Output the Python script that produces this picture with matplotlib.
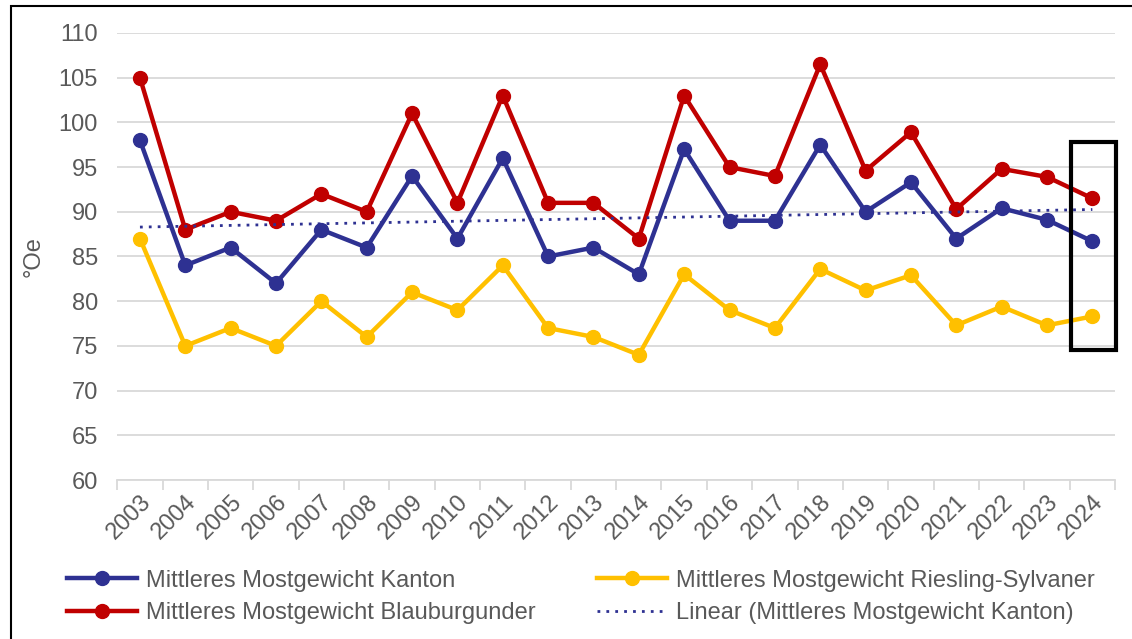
import numpy as np
import matplotlib
matplotlib.use("Agg")
import matplotlib.pyplot as plt
from matplotlib.patches import Rectangle

# data
years = [str(y) for y in range(2003, 2025)]
kanton = [98, 84, 86, 82, 88, 86, 94, 87, 96, 85, 86, 83, 97, 89, 89, 97.5, 90, 93.3, 87, 90.4, 89.1, 86.7]
blauburgunder = [105, 88, 90, 89, 92, 90, 101, 91, 103, 91, 91, 87, 103, 95, 94, 106.5, 94.6, 98.9, 90.3, 94.8, 93.9, 91.5]
riesling = [87, 75, 77, 75, 80, 76, 81, 79, 84, 77, 76, 74, 83, 79, 77, 83.6, 81.2, 82.9, 77.3, 79.4, 77.3, 78.3]

BLUE = "#2E3192"
RED = "#C00000"
YELLOW = "#FFC000"
GREY = "#595959"
FS = 17

plt.rcParams["font.family"] = ["Liberation Sans", "DejaVu Sans"]

fig = plt.figure(figsize=(11.32, 6.39), dpi=100)
ax = fig.add_axes([0.1036, 0.2488, 0.8814, 0.6996])

x = np.arange(len(years))

# linear trend of Kanton series
coef = np.polyfit(x, kanton, 1)
trend = np.polyval(coef, x)

l1, = ax.plot(x, kanton, color=BLUE, lw=3.2, marker="o", ms=10, zorder=3,
              label="Mittleres Mostgewicht Kanton")
l3, = ax.plot(x, riesling, color=YELLOW, lw=3.2, marker="o", ms=10, zorder=3,
              label="Mittleres Mostgewicht Riesling-Sylvaner")
l2, = ax.plot(x, blauburgunder, color=RED, lw=3.2, marker="o", ms=10, zorder=3,
              label="Mittleres Mostgewicht Blauburgunder")
l4, = ax.plot(x, trend, color=BLUE, lw=2, ls=(0, (1, 2.2)), zorder=4,
              label="Linear (Mittleres Mostgewicht Kanton)")

# highlight box around the last year
last = len(years) - 1
ax.add_patch(Rectangle((last - 0.48, 74.5), 1.0, 23.3, fill=False,
                       edgecolor="black", lw=3, clip_on=False, zorder=5))

ax.set_xlim(-0.5, len(years) - 0.5)
ax.set_ylim(60, 110)
ax.set_yticks(range(60, 111, 5))
ax.grid(axis="y", color="#D9D9D9", lw=1.3)
ax.set_axisbelow(True)

ax.set_xticks(x)
ax.set_xticklabels(years, rotation=45, ha="right", rotation_mode="anchor")
ax.set_xticks(np.arange(-0.5, len(years)), minor=True)
ax.tick_params(axis="x", which="major", length=0, pad=8, labelsize=FS, labelcolor=GREY)
ax.tick_params(axis="x", which="minor", length=7, width=1.3, color="#D9D9D9")
ax.tick_params(axis="y", length=0, pad=14, labelsize=FS, labelcolor=GREY)

for s in ["top", "right", "left"]:
    ax.spines[s].set_visible(False)
ax.spines["bottom"].set_color("#D9D9D9")
ax.spines["bottom"].set_linewidth(1.3)

ax.set_ylabel("°Oe", fontsize=FS, color=GREY, labelpad=10)

fig.legend(handles=[l1, l2, l3, l4], loc="lower left", bbox_to_anchor=(0.04, -0.01),
           ncol=2, frameon=False, fontsize=FS, labelcolor=GREY,
           handlelength=3.0, columnspacing=2.6, handletextpad=0.35, labelspacing=0.45)

# outer frame
fig.add_artist(Rectangle((11 / 1132, -0.01), 1.0, 1 - 6 / 639 + 0.01, fill=False,
                         edgecolor="black", lw=1.5, transform=fig.transFigure))

fig.savefig("out.png", dpi=100)
